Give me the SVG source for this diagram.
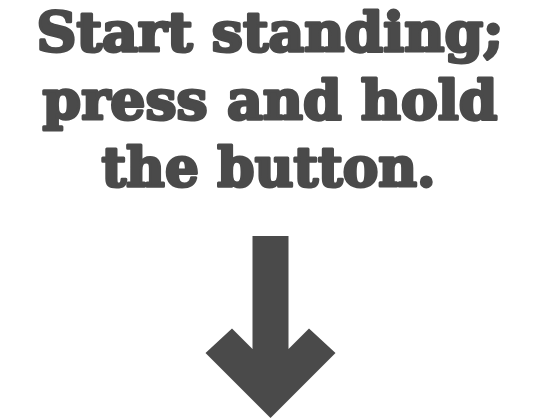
<svg xmlns="http://www.w3.org/2000/svg" width="540" height="420" viewBox="0 0 540 420">
<style>
.t{font-family:"DejaVu Serif","Liberation Serif",serif;font-weight:bold;font-size:54px;fill:#4a4a4a;stroke:#4a4a4a;stroke-width:3;stroke-linejoin:round;text-anchor:middle}
</style>
<rect width="540" height="420" fill="#ffffff"/>
<g id="title">
<text class="t" x="270" y="51" textLength="467" lengthAdjust="spacingAndGlyphs">Start standing;</text>
<text class="t" x="270" y="119" textLength="455" lengthAdjust="spacingAndGlyphs">press and hold</text>
<text class="t" x="268.5" y="186" textLength="334" lengthAdjust="spacingAndGlyphs">the button.</text>
</g>
<g id="connectors">
<polygon fill="#4a4a4a" points="252.5,236 288.5,236 288.5,349 309,328.5 335.5,353 270.5,418 205.5,353 232,328.5 252.5,349"/>
</g>
</svg>
